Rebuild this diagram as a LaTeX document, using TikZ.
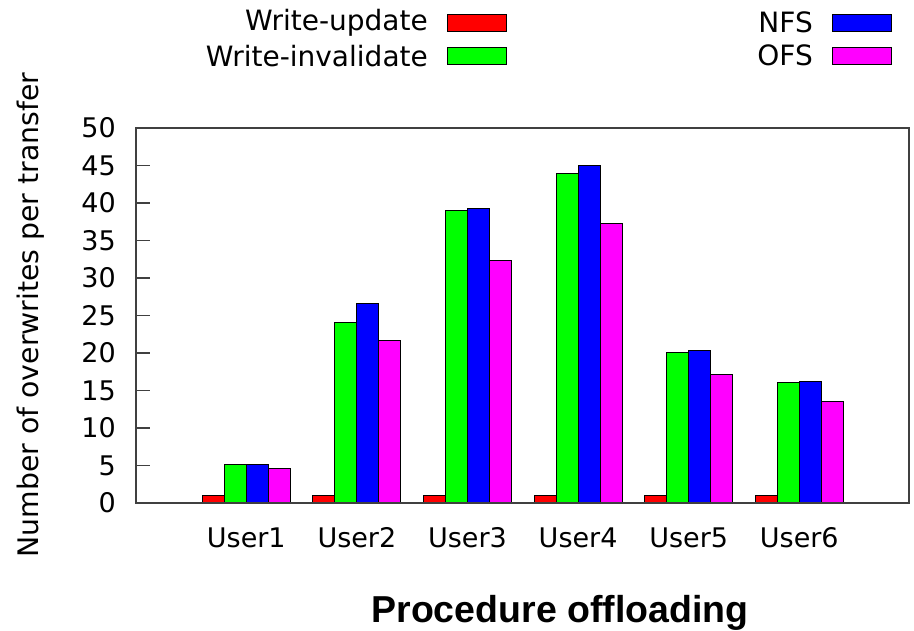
\documentclass[tikz,border=0pt]{standalone}
\usepackage{fontspec}
\setmainfont{DejaVu Sans}
\newfontfamily\titlefont{Liberation Sans}
\definecolor{frame}{HTML}{404040}
\definecolor{cWU}{HTML}{FF0000}
\definecolor{cWI}{HTML}{00FF00}
\definecolor{cNFS}{HTML}{0000FF}
\definecolor{cOFS}{HTML}{FF00FF}
\begin{document}
\begin{tikzpicture}[x=1pt,y=-1pt,
  axisframe/.style={draw=frame,line width=1.5pt},
  ticklabel/.style={font=\fontsize{27}{30}\selectfont,inner sep=0pt},
  legendtext/.style={font=\fontsize{28}{31}\selectfont,inner sep=0pt,anchor=east},
  legendbox/.style={draw=black,line width=0.8pt},
  bar/.style={draw=black,line width=0.9pt}]
\useasboundingbox (0,0) rectangle (914,631);
\fill[white] (0,0) rectangle (914,631);

% value axis ticks and labels (7.5 units of height per overwrite)
\foreach \v in {0,5,...,50}{
  \pgfmathsetmacro{\yy}{503-7.5*\v}
  \draw[draw=frame,line width=1.2pt] (136,\yy) -- (150,\yy);
  \node[ticklabel,anchor=east] (t\v) at (116,\yy) {\v};
}

% bars: write-update, write-invalidate, NFS, OFS per user
\foreach \i/\a/\b/\c/\d in {0/1.0/5.15/5.15/4.6, 1/1.0/24.1/26.6/21.7, 2/1.0/39.0/39.3/32.4,
                           3/1.0/44.0/45.05/37.3, 4/1.0/20.1/20.3/17.1, 5/1.0/16.1/16.2/13.6}{
  \pgfmathsetmacro{\cx}{246.3+110.6*\i}
  \pgfmathsetmacro{\xa}{\cx-44}
  \pgfmathsetmacro{\xb}{\cx-22}
  \pgfmathsetmacro{\xc}{\cx}
  \pgfmathsetmacro{\xd}{\cx+22}
  \pgfmathsetmacro{\xe}{\cx+44}
  \filldraw[bar,fill=cWU]  (\xa,503) rectangle (\xb,503-7.5*\a);
  \filldraw[bar,fill=cWI]  (\xb,503) rectangle (\xc,503-7.5*\b);
  \filldraw[bar,fill=cNFS] (\xc,503) rectangle (\xd,503-7.5*\c);
  \filldraw[bar,fill=cOFS] (\xd,503) rectangle (\xe,503-7.5*\d);
  \pgfmathtruncatemacro{\u}{\i+1}
  \node[ticklabel,anchor=base] (u\u) at (\cx,547) {User\u};
}

% plot frame
\draw[axisframe] (136,128) rectangle (909,503);

% axis titles
\node[rotate=90,anchor=base,inner sep=0pt,font=\fontsize{28.3}{31}\selectfont] (ylab) at (38,315)
  {Number of overwrites per transfer};
\node[anchor=base,inner sep=0pt,font=\titlefont\bfseries\fontsize{37.5}{42}\selectfont] (xlab) at (560,622)
  {Procedure offloading};

% legend
\node[legendtext] (lwu) at (428,22.8) {Write-update};
\filldraw[legendbox,fill=cWU] (447,14) rectangle (506,31.7);
\node[legendtext] (lwi) at (428,55.8) {Write-invalidate};
\filldraw[legendbox,fill=cWI] (447,47.3) rectangle (506,64.3);
\node[legendtext] (lnfs) at (813,22.8) {NFS};
\filldraw[legendbox,fill=cNFS] (832,14) rectangle (891,31.7);
\node[legendtext] (lofs) at (813,55.8) {OFS};
\filldraw[legendbox,fill=cOFS] (832,47.3) rectangle (891,64.3);
\end{tikzpicture}
\end{document}
